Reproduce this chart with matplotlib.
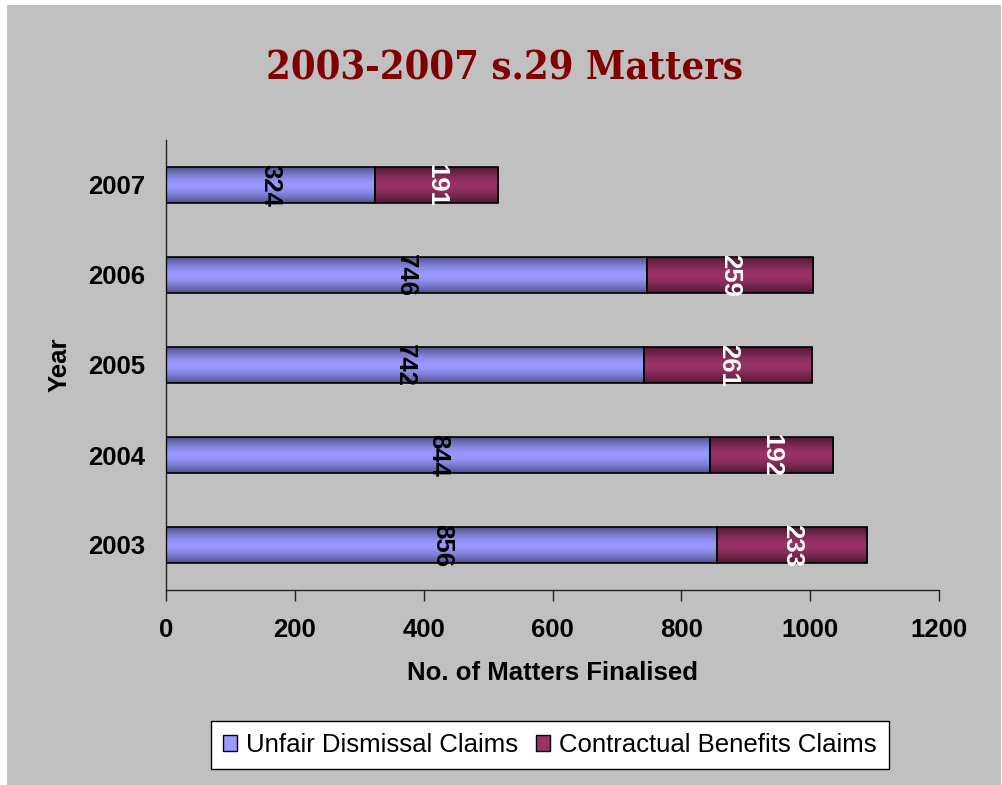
import numpy as np
import matplotlib
matplotlib.use("Agg")
import matplotlib.pyplot as plt
from matplotlib.patches import Rectangle, Patch
from matplotlib.colors import LinearSegmentedColormap

years = ["2003", "2004", "2005", "2006", "2007"]
unfair = [856, 844, 742, 746, 324]
contractual = [233, 192, 261, 259, 191]
series_names = ["Unfair Dismissal Claims", "Contractual Benefits Claims"]
xticks = [0, 200, 400, 600, 800, 1000, 1200]

blue_mid, blue_edge = "#9999FF", "#4F4F85"
purp_mid, purp_edge = "#993366", "#4A1830"

W, H = 1003, 785
FS = 18.5
fig = plt.figure(figsize=(W / 100, H / 100), dpi=100, facecolor="white")
fig.patches.append(Rectangle((7 / W, 0), (1001 - 7) / W, 1 - 5 / H, transform=fig.transFigure,
                             facecolor="#C0C0C0", edgecolor="none", zorder=-10))

ax = fig.add_axes([166 / W, 1 - 590 / H, (939 - 166) / W, (590 - 140) / H])
ax.set_facecolor("#C0C0C0")
ax.patch.set_alpha(0)

y = np.arange(len(years))
h = 0.4

def gradient_fill(bars, c_mid, c_edge):
    grad = np.abs(np.linspace(-1, 1, 200))
    grad = 1 - grad ** 1.6
    grad = grad.reshape(-1, 1)
    cm2 = LinearSegmentedColormap.from_list("g2", [c_edge, c_mid], N=256)
    for b in bars:
        x0, y0 = b.get_x(), b.get_y()
        w, hh = b.get_width(), b.get_height()
        im = ax.imshow(grad, cmap=cm2, extent=[x0, x0 + w, y0, y0 + hh], aspect="auto",
                       origin="lower", zorder=2, vmin=0, vmax=1)
        im.set_clip_path(b)

b1 = ax.barh(y, unfair, height=h, color=blue_mid, edgecolor="black", linewidth=1.2, zorder=3)
b2 = ax.barh(y, contractual, left=unfair, height=h, color=purp_mid, edgecolor="black", linewidth=1.2, zorder=3)
for b in list(b1) + list(b2):
    b.set_facecolor("none")
gradient_fill(b1, blue_mid, blue_edge)
gradient_fill(b2, purp_mid, purp_edge)

for i in range(len(years)):
    ax.text(unfair[i] / 2, y[i], str(unfair[i]), rotation=270, ha="center", va="center",
            fontsize=FS, fontweight="bold", color="black", family="Liberation Sans", zorder=5)
    ax.text(unfair[i] + contractual[i] / 2, y[i], str(contractual[i]), rotation=270, ha="center",
            va="center", fontsize=FS, fontweight="bold", color="white", family="Liberation Sans", zorder=5)

ax.set_xlim(0, 1200)
ax.set_ylim(-0.5, 4.5)
ax.set_xticks(xticks)
ax.set_xticklabels([str(t) for t in xticks], fontsize=FS, fontweight="bold", family="Liberation Sans")
ax.set_yticks(y)
ax.set_yticklabels(years, fontsize=FS, fontweight="bold", family="Liberation Sans")
ax.tick_params(axis="x", length=8, width=1, color="#222222", pad=12)
ax.tick_params(axis="y", length=0, pad=15)
for s in ["top", "right"]:
    ax.spines[s].set_visible(False)
for s in ["left", "bottom"]:
    ax.spines[s].set_color("#222222")
    ax.spines[s].set_linewidth(1)

ax.set_xlabel("No. of Matters Finalised", fontsize=FS, fontweight="bold", family="Liberation Sans")
ax.xaxis.set_label_coords(0.5, (590 - 673) / 450)
ax.xaxis.label.set_va("center")
ax.set_ylabel("Year", fontsize=FS, fontweight="bold", family="Liberation Sans")
ax.yaxis.set_label_coords((60 - 166) / 773, 0.5)
ax.yaxis.label.set_va("center")

fig.text(504 / W, 1 - 69 / H, "2003-2007 s.29 Matters", ha="center", va="center",
         fontsize=28.5, fontweight="bold", color="#800000", family="DejaVu Serif",
         fontstretch="condensed")

handles = [Patch(facecolor=blue_mid, edgecolor="black", linewidth=1),
           Patch(facecolor=purp_mid, edgecolor="black", linewidth=1)]
leg = fig.legend(handles, series_names, loc="center", bbox_to_anchor=(550 / W, 1 - 745 / H), ncol=2,
                 frameon=True, fancybox=False, edgecolor="black", facecolor="white", framealpha=1,
                 prop={"family": "Liberation Sans", "size": FS}, handlelength=0.55, handleheight=0.6,
                 handletextpad=0.35, columnspacing=0.7, borderpad=0.45, borderaxespad=0)
leg.get_frame().set_linewidth(1)

fig.savefig("out.png", dpi=100, facecolor=fig.get_facecolor())
